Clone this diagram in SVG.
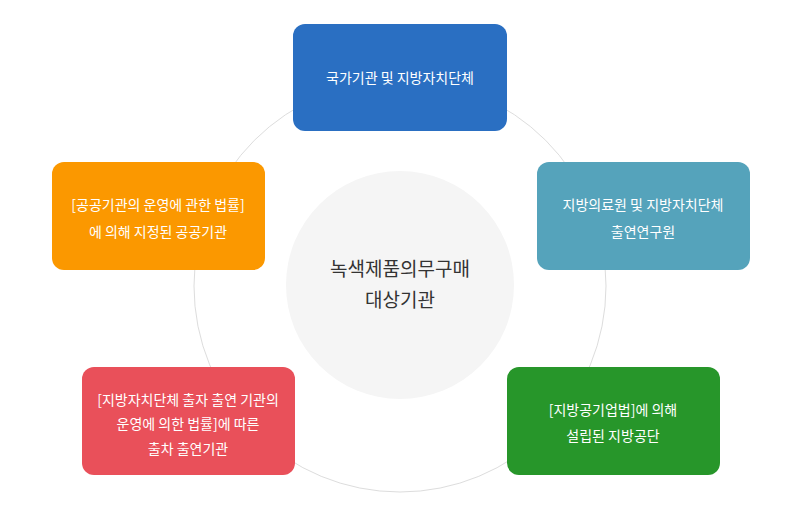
<svg xmlns="http://www.w3.org/2000/svg" width="800" height="512" viewBox="0 0 800 512">
<style>
text{font-family:"Noto Sans CJK KR","Noto Sans",sans-serif;text-anchor:middle}
.b text{fill:#fff;font-size:14px}
.c{font-size:19px;fill:#333}
</style>
<g id="connectors"><circle cx="400" cy="286" r="206" fill="none" stroke="#ddd" stroke-width="1"/></g>
<g id="center"><circle cx="400" cy="285" r="114" fill="#f5f5f5"/><text class="c" x="400" y="276">녹색제품의무구매</text><text class="c" x="400" y="307">대상기관</text></g>
<g id="n1" class="b"><rect x="293" y="24" width="214" height="107" rx="12" fill="#2a6fc2"/><text x="400" y="83">국가기관 및 지방자치단체</text></g>
<g id="n2" class="b"><rect x="537" y="162" width="213" height="108" rx="12" fill="#55a3bb"/><text x="643" y="210">지방의료원 및 지방자치단체</text><text x="643" y="237">출연연구원</text></g>
<g id="n3" class="b"><rect x="507" y="367" width="213" height="108" rx="12" fill="#27962a"/><text x="613" y="415">[지방공기업법]에 의해</text><text x="613" y="441">설립된 지방공단</text></g>
<g id="n4" class="b"><rect x="82" y="367" width="213" height="108" rx="12" fill="#e9505a"/><text x="188" y="405">[지방자치단체 출자 출연 기관의</text><text x="188" y="429">운영에 의한 법률]에 따른</text><text x="188" y="454">출차 출연기관</text></g>
<g id="n5" class="b"><rect x="52" y="162" width="213" height="108" rx="12" fill="#fb9800"/><text x="158" y="210">[공공기관의 운영에 관한 법률]</text><text x="158" y="237">에 의해 지정된 공공기관</text></g>
</svg>
